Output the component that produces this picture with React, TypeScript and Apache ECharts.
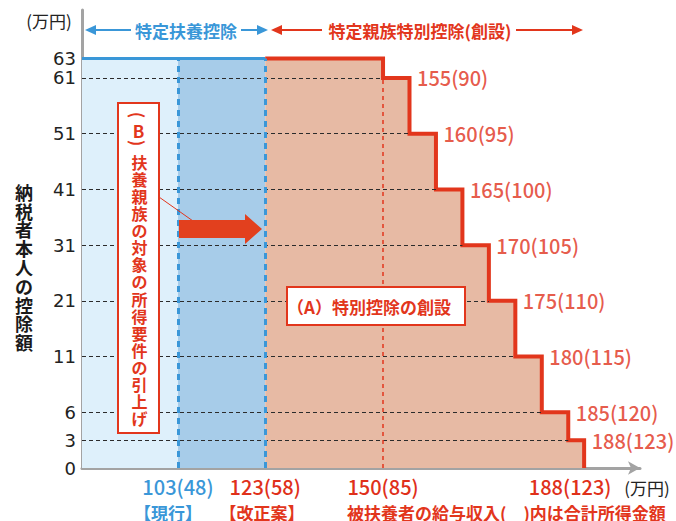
import React, { useEffect, useRef } from "react";
import * as echarts from "echarts";

// ===== data (万円) =====
// 被扶養者の給与収入の区切り
const salaryThresholds = [150, 155, 160, 165, 170, 175, 180, 185, 188];
// 同じ区切りの合計所得金額
const incomeThresholds = [85, 90, 95, 100, 105, 110, 115, 120, 123];
// 各区切り以下での納税者本人の控除額
const deductionAmounts = [63, 61, 51, 41, 31, 21, 11, 6, 3];
// 扶養控除の所得要件（現行・改正案）
const limitSalary = [103, 123];
const limitIncome = [48, 58];
const limitNames = ["【現行】", "【改正案】"];
const fullDeduction = 63;
// 縦軸・横軸の目盛り
const yTickValues = [0, 3, 6, 11, 21, 31, 41, 51, 61, 63];
const xTickSalaries = [103, 123, 150, 188];

// ===== schematic (non-linear) axis scales of the original figure =====
const Y_RANK = [0, 0.5, 1, 2, 3, 4, 5, 6, 7, 7.35];
const Y_MAX = 8.22;
const X_MIN = 81;
const X_MAX = 208.9;
const X_BREAK = 150;
const X_STRETCH = 1.213;

const xT = (v: number) => (v <= X_BREAK ? v : X_BREAK + (v - X_BREAK) * X_STRETCH);
const yT = (v: number) => {
  for (let i = 1; i < yTickValues.length; i++) {
    if (v <= yTickValues[i]) {
      const a = yTickValues[i - 1], b = yTickValues[i];
      return Y_RANK[i - 1] + ((v - a) / (b - a)) * (Y_RANK[i] - Y_RANK[i - 1]);
    }
  }
  return Y_RANK[Y_RANK.length - 1];
};

const BLUE = "#3a97d8";
const RED = "#e2361c";
const LABEL_RED = "#e0301a";
const FONT = '"Noto Sans CJK JP", "Noto Sans", sans-serif';

const incomeFor = (s: number) => {
  const i = limitSalary.indexOf(s);
  if (i >= 0) return limitIncome[i];
  return incomeThresholds[salaryThresholds.indexOf(s)];
};

export default function App() {
  const ref = useRef<HTMLDivElement>(null);

  useEffect(() => {
    if (!ref.current) return;
    const chart = echarts.init(ref.current, null, { renderer: "svg" });

    const reform = limitSalary[1];
    const current = limitSalary[0];

    // step outline of 特定親族特別控除
    const stepData: number[][] = [[xT(reform), yT(fullDeduction)]];
    salaryThresholds.forEach((t, i) => {
      const next = i + 1 < deductionAmounts.length ? deductionAmounts[i + 1] : 0;
      stepData.push([xT(t), yT(next)]);
    });

    // labels at each step corner
    const labelData = salaryThresholds.slice(1).map((t, k) => {
      const i = k + 1;
      return { name: `${t}(${incomeThresholds[i]})`, value: [xT(t), yT(deductionAmounts[i])] };
    });

    // dashed horizontal guides
    const hLines = deductionAmounts.slice(1).map((d, k) => [
      { coord: [X_MIN, yT(d)], lineStyle: { color: "#2b2b2b", width: 1.2, type: [4, 3] } },
      { coord: [xT(salaryThresholds[k]), yT(d)] },
    ]);

    const vLines = [
      [
        { coord: [xT(current), 0], lineStyle: { color: BLUE, width: 3, type: [6, 5] } },
        { coord: [xT(current), yT(fullDeduction)] },
      ],
      [
        { coord: [xT(reform), 0], lineStyle: { color: BLUE, width: 3, type: [6, 5] } },
        { coord: [xT(reform), yT(fullDeduction)] },
      ],
      [
        { coord: [xT(salaryThresholds[0]), 0], lineStyle: { color: RED, width: 1.5, type: [4, 4] } },
        { coord: [xT(salaryThresholds[0]), yT(deductionAmounts[1])] },
      ],
    ];

    const vertical = (s: string) => s.split("").join("\n");

    const option: any = {
      animation: false,
      textStyle: { fontFamily: FONT },
      grid: { left: 82, right: 36, top: 10, bottom: 53 },
      xAxis: {
        type: "value",
        min: X_MIN,
        max: X_MAX,
        splitLine: { show: false },
        axisTick: { show: false },
        axisLine: {
          show: true,
          symbol: ["none", "arrow"],
          symbolSize: [10, 12],
          lineStyle: { color: "#a3a3a3", width: 3 },
        },
        axisLabel: {
          customValues: xTickSalaries.map(xT),
          margin: 8,
          fontFamily: FONT,
          formatter: (v: number) => {
            const i = xTickSalaries.findIndex((s) => Math.abs(xT(s) - v) < 1e-6);
            if (i < 0) return "";
            const s = xTickSalaries[i];
            const style = i === 0 ? "b" : i === xTickSalaries.length - 1 ? "rEnd" : "r";
            return `{${style}|${s}(${incomeFor(s)})}`;
          },
          rich: {
            b: { color: BLUE, fontSize: 20, fontWeight: 500, fontFamily: FONT },
            r: { color: LABEL_RED, fontSize: 20, fontWeight: 500, fontFamily: FONT },
            rEnd: { color: LABEL_RED, fontSize: 20, fontWeight: 500, fontFamily: FONT, padding: [0, 28, 0, 0] },
          },
        },
      },
      yAxis: {
        type: "value",
        min: 0,
        max: Y_MAX,
        splitLine: { show: false },
        axisTick: { show: false },
        axisLine: { show: true, lineStyle: { color: "#a3a3a3", width: 3 } },
        axisLabel: {
          customValues: Y_RANK,
          margin: 6,
          color: "#222",
          fontSize: 18,
          fontFamily: '"DejaVu Sans", sans-serif',
          formatter: (v: number) => {
            const i = Y_RANK.findIndex((r) => Math.abs(r - v) < 1e-6);
            return i >= 0 ? String(yTickValues[i]) : "";
          },
        },
      },
      series: [
        {
          name: "特定扶養控除",
          type: "line",
          symbol: "none",
          z: 2,
          data: [
            [X_MIN, yT(fullDeduction)],
            [xT(reform), yT(fullDeduction)],
          ],
          lineStyle: { color: BLUE, width: 3 },
          markArea: {
            silent: true,
            data: [
              [
                { coord: [X_MIN, 0], itemStyle: { color: "#def0fb" } },
                { coord: [xT(current), yT(fullDeduction)] },
              ],
              [
                { coord: [xT(current), 0], itemStyle: { color: "#a7cce9" } },
                { coord: [xT(reform), yT(fullDeduction)] },
              ],
            ],
          },
          markLine: {
            silent: true,
            symbol: ["none", "none"],
            label: { show: false },
            data: [...hLines, ...vLines],
          },
        },
        {
          name: "特定親族特別控除",
          type: "line",
          step: "end",
          symbol: "none",
          z: 4,
          data: stepData,
          lineStyle: { color: RED, width: 4, join: "miter" },
          areaStyle: { color: "#e7baa4", opacity: 1 },
        },
        {
          name: "labels",
          type: "scatter",
          symbolSize: 1,
          itemStyle: { color: "rgba(0,0,0,0)" },
          z: 6,
          data: labelData,
          label: {
            show: true,
            position: "right",
            distance: 7,
            color: LABEL_RED,
            fontSize: 20,
            fontWeight: 500,
            fontFamily: FONT,
            formatter: (p: any) => p.name,
          },
        },
      ],
      graphic: [
        // top unit
        { type: "text", z: 100, x: 49, y: 20, style: { text: "(万円)", fill: "#222", font: `17px ${FONT}`, align: "center", verticalAlign: "middle" } },
        // header blue
        { type: "line", z: 100, shape: { x1: 92, y1: 30, x2: 131, y2: 30 }, style: { stroke: BLUE, lineWidth: 2 } },
        { type: "polygon", z: 100, shape: { points: [[85, 30], [96, 25], [96, 35]] }, style: { fill: BLUE } },
        { type: "text", z: 100, x: 186, y: 30, style: { text: "特定扶養控除", fill: BLUE, font: `bold 17px ${FONT}`, align: "center", verticalAlign: "middle" } },
        { type: "line", z: 100, shape: { x1: 241, y1: 30, x2: 260, y2: 30 }, style: { stroke: BLUE, lineWidth: 2 } },
        { type: "polygon", z: 100, shape: { points: [[268, 30], [257, 25], [257, 35]] }, style: { fill: BLUE } },
        // header red
        { type: "polygon", z: 100, shape: { points: [[271, 30], [282, 25], [282, 35]] }, style: { fill: RED } },
        { type: "line", z: 100, shape: { x1: 280, y1: 30, x2: 322, y2: 30 }, style: { stroke: RED, lineWidth: 2 } },
        { type: "text", z: 100, x: 420, y: 30, style: { text: "特定親族特別控除(創設)", fill: RED, font: `bold 17px ${FONT}`, align: "center", verticalAlign: "middle" } },
        { type: "line", z: 100, shape: { x1: 516, y1: 30, x2: 575, y2: 30 }, style: { stroke: RED, lineWidth: 2 } },
        { type: "polygon", z: 100, shape: { points: [[583, 30], [572, 25], [572, 35]] }, style: { fill: RED } },
        // y axis title
        { type: "text", z: 100, x: 24, y: 267, style: { text: vertical("納税者本人の控除額"), fill: "#1a1a1a", font: `bold 18px ${FONT}`, lineHeight: 18.8, align: "center", verticalAlign: "middle" } },
        // (B) box
        { type: "rect", z: 100, shape: { x: 118, y: 103, width: 41, height: 330 }, style: { fill: "#fff", stroke: RED, lineWidth: 2 } },
        { type: "text", z: 101, x: 138.5, y: 115, rotation: -Math.PI / 2, style: { text: "(", fill: RED, font: `bold 17px ${FONT}`, align: "center", verticalAlign: "middle" } },
        { type: "text", z: 101, x: 138.5, y: 130, style: { text: "B", fill: RED, font: `bold 17px ${FONT}`, align: "center", verticalAlign: "middle" } },
        { type: "text", z: 101, x: 138.5, y: 143, rotation: -Math.PI / 2, style: { text: ")", fill: RED, font: `bold 17px ${FONT}`, align: "center", verticalAlign: "middle" } },
        { type: "text", z: 101, x: 139.5, y: 290, style: { text: vertical("扶養親族の対象の所得要件の引上げ"), fill: RED, font: `bold 16px ${FONT}`, lineHeight: 17.1, align: "center", verticalAlign: "middle" } },
        // leader + big arrow
        { type: "line", z: 100, shape: { x1: 159, y1: 197, x2: 193, y2: 221 }, style: { stroke: RED, lineWidth: 1 } },
        { type: "polygon", z: 100, shape: { points: [[179, 220], [245, 220], [245, 214], [262, 229], [245, 244], [245, 238], [179, 238]] }, style: { fill: "#e2401e" } },
        // (A) box
        { type: "rect", z: 100, shape: { x: 287, y: 287, width: 178, height: 38 }, style: { fill: "#fff", stroke: RED, lineWidth: 2 } },
        { type: "text", z: 101, x: 369, y: 306, style: { text: "（A）特別控除の創設", fill: RED, font: `bold 17px ${FONT}`, align: "center", verticalAlign: "middle" } },
        // bottom unit and notes
        { type: "text", z: 100, x: 647, y: 487, style: { text: "(万円)", fill: "#222", font: `17px ${FONT}`, align: "center", verticalAlign: "middle" } },
        { type: "text", z: 100, x: 168, y: 512, style: { text: limitNames[0], fill: BLUE, font: `bold 17px ${FONT}`, align: "center", verticalAlign: "middle" } },
        { type: "text", z: 100, x: 262, y: 512, style: { text: limitNames[1], fill: RED, font: `bold 17px ${FONT}`, align: "center", verticalAlign: "middle" } },
        { type: "text", z: 100, x: 347, y: 512, style: { text: "被扶養者の給与収入(　)内は合計所得金額", fill: RED, font: `bold 17px ${FONT}`, align: "left", verticalAlign: "middle" } },
      ],
    };

    chart.setOption(option);
    return () => chart.dispose();
  }, []);

  return (
    <div
      ref={ref}
      style={{ position: "fixed", left: 0, top: 0, width: 676, height: 521, background: "#fff" }}
    />
  );
}
